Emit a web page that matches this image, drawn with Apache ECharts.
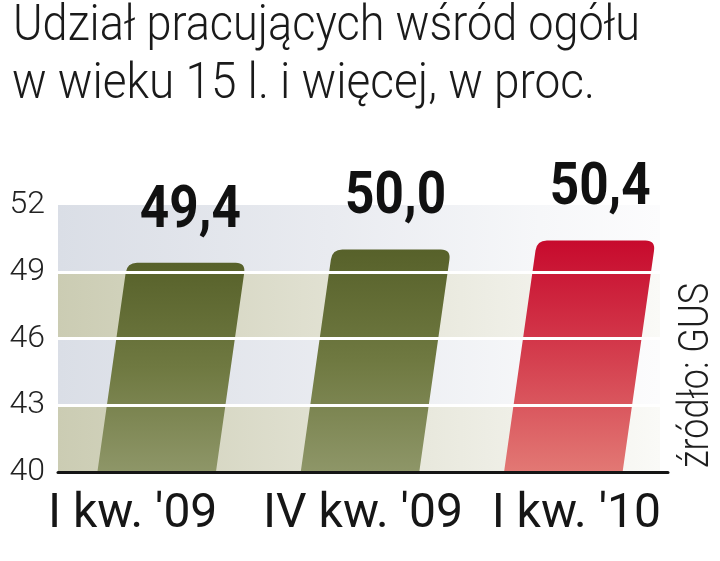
<!DOCTYPE html>
<html><head><meta charset="utf-8">
<script src="https://cdn.jsdelivr.net/npm/echarts@6/dist/echarts.min.js"></script>
<style>html,body{margin:0;padding:0;background:#fff}#c{width:720px;height:561px}</style>
</head><body><div id="c"></div>
<script>
// ---- data ----
const categories = ["I kw. '09", "IV kw. '09", "I kw. '10"];
const values = [49.4, 50.0, 50.4];
const valueLabels = ["49,4", "50,0", "50,4"];
const yTicks = [40, 43, 46, 49, 52];
const bandLows = [40, 43, 46, 49];
const bandHighs = [43, 46, 49, 52];
const highlight = [false, false, true];
const titleLines = ["Udział pracujących wśród ogółu", "w wieku 15 l. i więcej, w proc."];
const sourceText = "źródło: GUS";

// ---- helpers ----
const mctx = document.createElement('canvas').getContext('2d');
function tw(str, font) { mctx.font = font; return mctx.measureText(str).width; }

const yMin = yTicks[0], yMax = yTicks[yTicks.length - 1], yStep = yTicks[1] - yTicks[0];
const titleFont = '300 50px Roboto';
const titleScale1 = 627 / tw(titleLines[0], titleFont);
const titleScale2 = 583 / tw(titleLines[1], titleFont);
const valFont = 'bold 59px Roboto';
const valScale = 101 / tw(valueLabels[0], valFont);
const srcFont = '300 43px Roboto';
const srcScale = 185 / tw(sourceText, srcFont);

const SLANT = 0.142;

function barPath(api, i, v) {
  const base = api.coord([i, yMin]);
  const top = api.coord([i, v]);
  const band = api.size([1, 0])[0];
  const bw = band * 0.583;
  const h = base[1] - top[1];
  const slant = h * SLANT;
  const x0 = base[0] - 3 - bw / 2, y0 = base[1];
  const xt = x0 + slant, yt = top[1];
  return { x0, y0, xt, yt, bw };
}

const chart = echarts.init(document.getElementById('c'));
chart.setOption({
  animation: false,
  grid: { left: 58, right: 52, top: 205, bottom: 89 },
  xAxis: {
    type: 'category',
    data: categories.map((c, i) => ({
      value: c,
      textStyle: { padding: i === 0 ? [0, 54, 0, 0] : (i === 2 ? [0, 0, 0, 20] : 0) }
    })),
    boundaryGap: true,
    z: 4,
    axisLine: { lineStyle: { color: '#151515', width: 3 } },
    axisTick: { show: false },
    axisLabel: { interval: 0, hideOverlap: false, fontFamily: 'Roboto', fontSize: 48, color: '#161616', margin: 19 },
    splitLine: { show: false }
  },
  yAxis: {
    type: 'value',
    min: yMin, max: yMax, interval: yStep,
    z: 3,
    axisLine: { show: false },
    axisTick: { show: false },
    axisLabel: { fontFamily: 'Roboto', fontWeight: 300, fontSize: 32, color: '#222', margin: 13 },
    splitLine: { lineStyle: { color: ['#ffffff', '#ffffff', '#ffffff', '#ffffff', 'rgba(255,255,255,0)'], width: 3 } }
  },
  series: [
    {
      type: 'custom', z: 1, silent: true,
      data: bandLows.map((lo, i) => [0, lo, bandHighs[i]]),
      encode: { x: 0, y: [1, 2] },
      renderItem: function (params, api) {
        const cs = params.coordSys;
        const lo = api.coord([0, api.value(1)]);
        const hi = api.coord([0, api.value(2)]);
        const beige = params.dataIndex % 2 === 0;
        const stops = beige
          ? [{ offset: 0, color: '#cbccb3' }, { offset: 0.45, color: '#e1e1d2' }, { offset: 0.8, color: '#f1f1ea' }, { offset: 1, color: '#fafaf7' }]
          : [{ offset: 0, color: '#dadee6' }, { offset: 0.45, color: '#e9ebf0' }, { offset: 0.8, color: '#f6f7f9' }, { offset: 1, color: '#fcfcfd' }];
        return {
          type: 'rect',
          shape: { x: cs.x, y: hi[1], width: cs.width - 8, height: lo[1] - hi[1] },
          style: { fill: new echarts.graphic.LinearGradient(0, 0, 1, 0, stops) }
        };
      }
    },
    {
      type: 'custom', z: 2, silent: true,
      data: values.map((v, i) => [i, v]),
      encode: { x: 0, y: 1 },
      renderItem: function (params, api) {
        const i = api.value(0), v = api.value(1);
        const g = barPath(api, i, v);
        const s = SLANT, r = 10;
        const { x0, y0, xt, yt, bw } = g;
        const d = 'M' + x0 + ',' + y0 +
          ' L' + (xt - r * s) + ',' + (yt + r) +
          ' Q' + xt + ',' + yt + ' ' + (xt + r) + ',' + yt +
          ' L' + (xt + bw - r) + ',' + yt +
          ' Q' + (xt + bw) + ',' + yt + ' ' + (xt + bw - r * s) + ',' + (yt + r) +
          ' L' + (x0 + bw) + ',' + y0 + ' Z';
        const red = highlight[params.dataIndex];
        const stops = red
          ? [{ offset: 0, color: '#c70a2d' }, { offset: 0.5, color: '#d43e4e' }, { offset: 1, color: '#e27874' }]
          : [{ offset: 0, color: '#57612a' }, { offset: 0.5, color: '#6f7941' }, { offset: 1, color: '#8e9668' }];
        return {
          type: 'path',
          shape: { pathData: d },
          style: { fill: new echarts.graphic.LinearGradient(0, 0, 0, 1, stops) }
        };
      }
    },
    {
      type: 'custom', z: 5, silent: true,
      data: values.map((v, i) => [i, v]),
      encode: { x: 0, y: 1 },
      renderItem: function (params, api) {
        const i = api.value(0), v = api.value(1);
        const g = barPath(api, i, v);
        return {
          type: 'text',
          x: g.xt + g.bw / 2 + 4,
          y: g.yt - 51,
          scaleX: valScale,
          style: {
            text: valueLabels[params.dataIndex],
            font: valFont,
            fill: '#111',
            align: 'center',
            verticalAlign: 'middle'
          }
        };
      }
    }
  ],
  graphic: [
    { type: 'text', x: 13, y: 27.5, scaleX: titleScale1,
      style: { text: titleLines[0], font: titleFont, fill: '#1a1a1a', align: 'left', verticalAlign: 'middle' } },
    { type: 'text', x: 12, y: 85.5, scaleX: titleScale2,
      style: { text: titleLines[1], font: titleFont, fill: '#1a1a1a', align: 'left', verticalAlign: 'middle' } },
    { type: 'text', x: 697, y: 468, rotation: Math.PI / 2, scaleX: srcScale,
      style: { text: sourceText, font: srcFont, fill: '#1e1e1e', align: 'left', verticalAlign: 'middle' } }
  ]
});
</script>
</body></html>
